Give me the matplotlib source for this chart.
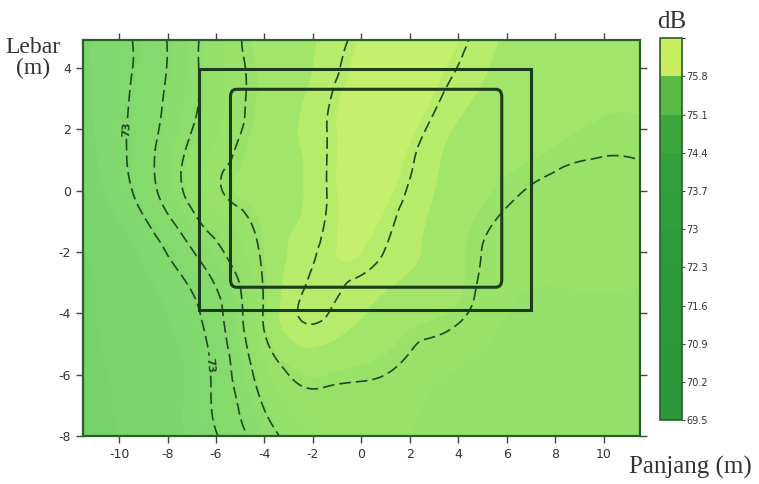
import numpy as np
import matplotlib
matplotlib.use("Agg")
import matplotlib.pyplot as plt
import matplotlib.tri as mtri
from matplotlib.colors import LinearSegmentedColormap, ListedColormap, BoundaryNorm
from matplotlib.patches import Rectangle, FancyBboxPatch
import matplotlib.cm as cm

plt.rcParams['axes.unicode_minus'] = False

# grid of sound level readings (dB) estimated from the map
x_nodes = [-11.5, -9, -6.5, -4, -1.5, 1, 3.5, 6, 8.5, 11.5]
y_nodes = [-8, -6, -4, -2, 0, 2, 4, 4.9]
db_rows = [
    [71.3, 71.9, 72.7, 74.1, 74.85, 74.9, 74.75, 74.6, 74.55, 74.55],  # y=-8
    [71.4, 72.0, 72.8, 74.7, 75.2, 75.1, 74.85, 74.7, 74.6, 74.6],     # y=-6
    [71.5, 72.2, 73.1, 75.15, 75.82, 75.4, 75.2, 74.85, 74.75, 74.75],  # y=-4
    [71.7, 72.5, 73.95, 75.2, 75.85, 75.79, 75.35, 75.0, 74.95, 74.95],  # y=-2
    [72.0, 73.3, 74.85, 75.3, 75.78, 75.95, 75.45, 75.15, 75.02, 75.02],  # y=0
    [72.2, 73.35, 74.6, 75.3, 75.78, 76.1, 75.6, 75.35, 75.22, 75.18],  # y=2
    [72.3, 73.2, 74.5, 75.25, 75.65, 76.15, 75.9, 75.45, 75.3, 75.22],  # y=4
    [72.3, 73.2, 74.5, 75.3, 75.6, 76.1, 76.0, 75.5, 75.35, 75.25],     # y=4.9
]

# building outlines (m)
outer_box = (-6.7, -3.9, 13.7, 7.85)   # x, y, width, height
inner_box = (-5.4, -3.15, 11.2, 6.45)

line_levels = [73, 73.7, 74.4, 75.1, 75.8]
fill_levels = [71.0, 71.35, 71.7, 72.05, 72.4, 72.75, 73.1, 73.45, 73.8,
               74.15, 74.5, 74.85, 75.2, 75.55, 75.9, 76.25, 76.6]
cbar_bounds = [69.5, 70.2, 70.9, 71.6, 72.3, 73, 73.7, 74.4, 75.1, 75.8, 76.5]
cbar_ticks = [69.5, 70.2, 70.9, 71.6, 72.3, 73, 73.7, 74.4, 75.1, 75.8]
cbar_colors = ['#2b963a', '#2c983a', '#2d993a', '#2e9b3a', '#2f9c3b',
               '#309e3b', '#33a03b', '#3ba63c', '#5ab845', '#c8ee60']

X, Y = np.meshgrid(x_nodes, y_nodes)
Z = np.array(db_rows)
tri = mtri.Triangulation(X.ravel(), Y.ravel())
interp = mtri.CubicTriInterpolator(tri, Z.ravel(), kind='min_E')
refiner = mtri.UniformTriRefiner(tri)
tri_f, z_f = refiner.refine_field(Z.ravel(), interp, subdiv=4)

vmin, vmax = 71.2, 76.3
stops = [(71.2, '#72d06c'), (72.5, '#7ed76e'), (74.0, '#8adc6c'),
         (75.0, '#97e26a'), (75.5, '#a4e66a'), (75.8, '#bbed6a'),
         (76.3, '#cdf36c')]
map_cmap = LinearSegmentedColormap.from_list(
    'map', [((v - vmin) / (vmax - vmin), c) for v, c in stops])

fig = plt.figure(figsize=(7.59, 4.84), dpi=100)
ax = fig.add_axes([0.109, 0.099, 0.734, 0.818])

ax.tricontourf(tri_f, z_f, levels=fill_levels, cmap=map_cmap,
               vmin=vmin, vmax=vmax)
cs = ax.tricontour(tri_f, z_f, levels=line_levels, colors='#22481f',
                   linewidths=1.2, linestyles=[(0, (7, 3))])
lbls = ax.clabel(cs, levels=[73], manual=[(-9.4, 2.0), (-6.2, -5.7)],
                 fmt='%g', fontsize=8, inline=True, inline_spacing=3)
for t in lbls:
    t.set_fontweight('bold')

ax.add_patch(Rectangle(outer_box[:2], outer_box[2], outer_box[3],
                       fill=False, ec='#1c3a1c', lw=2.2, zorder=5))
ax.add_patch(FancyBboxPatch(inner_box[:2], inner_box[2], inner_box[3],
                            boxstyle='round,pad=0,rounding_size=0.25',
                            fill=False, ec='#1c3a1c', lw=2.2, zorder=5))

ax.set_xlim(-11.5, 11.5)
ax.set_ylim(-8, 4.9)
ax.set_xticks([-10, -8, -6, -4, -2, 0, 2, 4, 6, 8, 10])
ax.set_yticks([-8, -6, -4, -2, 0, 2, 4])
ax.tick_params(direction='out', length=5, width=1, color='#444444',
               top=True, right=True, labelsize=9, labelcolor='#333333')
for s in ax.spines.values():
    s.set_color('#2a5e2a')
    s.set_linewidth(1.6)

cax = fig.add_axes([0.8696, 0.132, 0.029, 0.789])
sm = cm.ScalarMappable(norm=BoundaryNorm(cbar_bounds, len(cbar_colors)),
                       cmap=ListedColormap(cbar_colors))
cb = fig.colorbar(sm, cax=cax, ticks=cbar_ticks)
cb.ax.set_yticklabels([f'{v:g}' for v in cbar_ticks])
cb.ax.tick_params(labelsize=7, length=2, width=0.8, color='#2a5e2a',
                  labelcolor='#333333', pad=1)
cb.outline.set_edgecolor('#2a5e2a')
cb.outline.set_linewidth(1.2)

serif = ['Liberation Serif', 'DejaVu Serif']
fig.text(0.044, 0.88, 'Lebar\n(m)', family=serif, fontsize=17,
         ha='center', va='center', color='#333333', linespacing=1.0)
fig.text(0.909, 0.035, 'Panjang (m)', family=serif, fontsize=18,
         ha='center', va='center', color='#333333')
fig.text(0.885, 0.955, 'dB', family=serif, fontsize=18,
         ha='center', va='center', color='#333333')

fig.savefig('out.png', dpi=100)
